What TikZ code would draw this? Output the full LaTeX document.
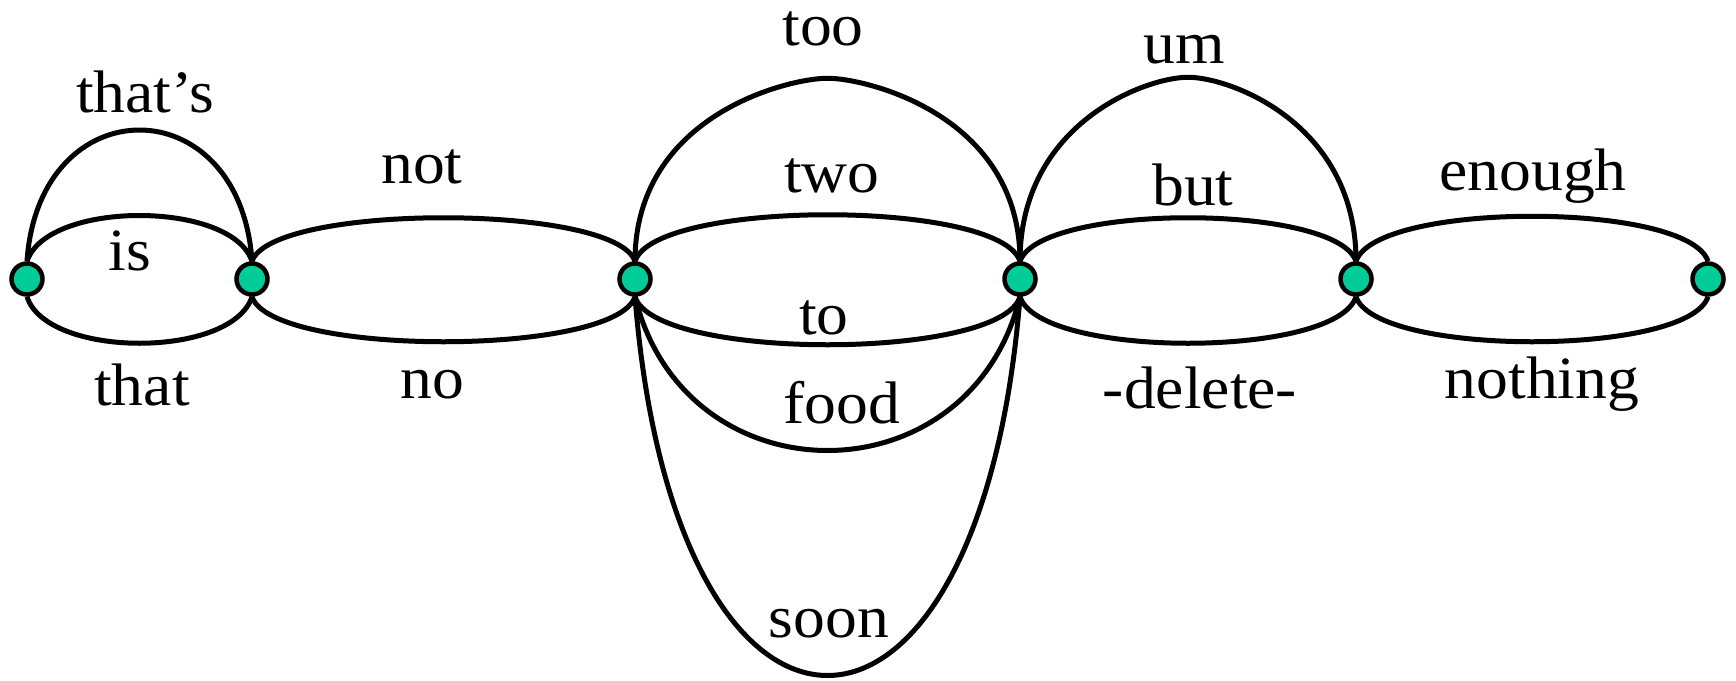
\documentclass[tikz,border=0pt]{standalone}
\usepackage{fontspec}
\setmainfont[FakeStretch=1.06]{Liberation Serif}
\usetikzlibrary{calc}
\definecolor{statefill}{RGB}{0,204,153}
\begin{document}
\begin{tikzpicture}[x=1pt,y=1pt,
  state/.style={circle,draw=black,fill=statefill,line width=4.5pt,minimum size=31pt,inner sep=0pt},
  arc/.style={draw=black,line width=5pt},
  word/.style={anchor=base,inner sep=0pt,font=\fontsize{60}{70}\selectfont}]
\useasboundingbox (0,0) rectangle (1736,-680);

% lattice states
\node[state] (n1) at (27,-279) {};
\node[state] (n2) at (252,-279) {};
\node[state] (n3) at (635,-279) {};
\node[state] (n4) at (1020,-279) {};
\node[state] (n5) at (1356,-279) {};
\node[state] (n6) at (1708,-279) {};

% n1 -- n2
\path[arc] (n1.north) .. controls +(12,175) and +(-12,175) .. (n2.north);
\path[arc] (n1.north) .. controls +(20,61) and +(-20,61) .. (n2.north);
\path[arc] (n1.south) .. controls +(20,-62) and +(-20,-62) .. (n2.south);
% n2 -- n3
\path[arc] (n2.north) .. controls +(20,58) and +(-20,58) .. (n3.north);
\path[arc] (n2.south) .. controls +(20,-60) and +(-20,-60) .. (n3.south);
% n3 -- n4
\coordinate (toptoo) at ($(n3.north)!0.5!(n4.north)+(0,183)$);
\path[arc] (n3.north) .. controls +(0,146) and +(-39,0) .. (toptoo)
                      .. controls +(39,0) and +(0,146) .. (n4.north);
\path[arc] (n3.north) .. controls +(20,62) and +(-20,62) .. (n4.north);
\path[arc] (n3.south) .. controls +(20,-64) and +(-20,-64) .. (n4.south);
\path[arc] (n3.south) .. controls +(50,-205) and +(-50,-205) .. (n4.south);
\path[arc] (n3.south) .. controls +(40,-505) and +(-40,-505) .. (n4.south);
% n4 -- n5
\coordinate (topum) at ($(n4.north)!0.5!(n5.north)+(0,184)$);
\path[arc] (n4.north) .. controls +(0,138) and +(-42,0) .. (topum)
                      .. controls +(42,0) and +(0,138) .. (n5.north);
\path[arc] (n4.north) .. controls +(20,58) and +(-20,58) .. (n5.north);
\path[arc] (n4.south) .. controls +(20,-62) and +(-20,-62) .. (n5.south);
% n5 -- n6
\path[arc] (n5.north) .. controls +(20,60) and +(-20,60) .. (n6.north);
\path[arc] (n5.south) .. controls +(20,-60) and +(-20,-60) .. (n6.south);

% word labels
\node[word] (wthats) at (145,-112) {that’s};
\node[word] (wis) at (130,-270) {is};
\node[word] (wthat) at (142,-405) {that};
\node[word] (wnot) at (422,-183) {not};
\node[word] (wno) at (432,-398) {no};
\node[word] (wtoo) at (823,-45) {too};
\node[word] (wtwo) at (832,-192) {two};
\node[word] (wto) at (824,-334) {to};
\node[word] (wfood) at (842,-423) {food};
\node[word] (wsoon) at (829,-637) {soon};
\node[word] (wum) at (1184,-63) {um};
\node[word] (wbut) at (1193,-205) {but};
\node[word] (wdel) at (1200,-408) {-delete-};
\node[word] (wenough) at (1533,-190) {enough};
\node[word] (wnothing) at (1542,-398) {nothing};
\end{tikzpicture}
\end{document}
